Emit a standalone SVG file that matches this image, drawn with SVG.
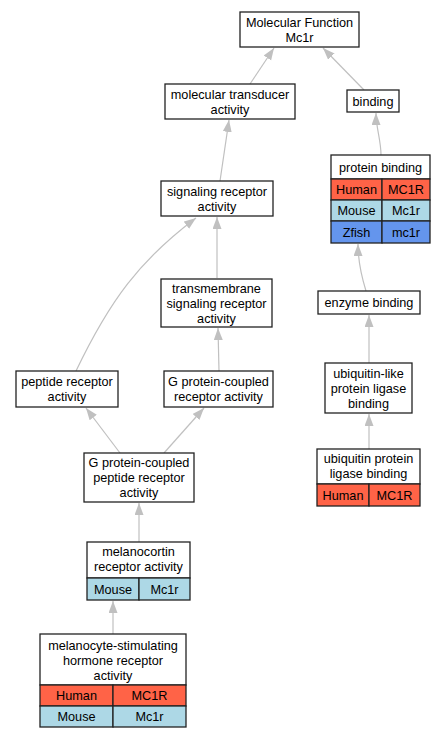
<svg xmlns="http://www.w3.org/2000/svg" width="445" height="739" viewBox="0 0 445 739">
<style>
text{font-family:"Liberation Sans",Arial,sans-serif;font-size:12.7px;fill:#000;text-anchor:middle}
.box{fill:#fff;stroke:#222;stroke-width:1.3}
.h{fill:#ff6347;stroke:#222;stroke-width:1.3}
.m{fill:#add8e6;stroke:#222;stroke-width:1.3}
.z{fill:#6495ed;stroke:#222;stroke-width:1.3}
.e{fill:none;stroke:#c0c0c0;stroke-width:1.2}
</style>
<defs>
<marker id="a" markerUnits="userSpaceOnUse" markerWidth="13" markerHeight="10" refX="12" refY="4.5" orient="auto"><path d="M0,0 L12,4.5 L0,9 z" fill="#c0c0c0"/></marker>
</defs>
<rect width="445" height="739" fill="#fff"/>
<g id="edges">
<path class="e" marker-end="url(#a)" d="M250,84 L274,48"/>
<path class="e" marker-end="url(#a)" d="M364,90 L323,48"/>
<path class="e" marker-end="url(#a)" d="M220,181 L229,120"/>
<path class="e" marker-end="url(#a)" d="M381,155 C381,140 376,128 376,113"/>
<path class="e" marker-end="url(#a)" d="M217,278 L217,217"/>
<path class="e" marker-end="url(#a)" d="M366,291 C362,278 358,262 358,244"/>
<path class="e" marker-end="url(#a)" d="M76,371 C110,300 140,260 196,218"/>
<path class="e" marker-end="url(#a)" d="M219,371 L218,328"/>
<path class="e" marker-end="url(#a)" d="M369,363 L369,315"/>
<path class="e" marker-end="url(#a)" d="M120,453 L86,408"/>
<path class="e" marker-end="url(#a)" d="M164,453 L204,408"/>
<path class="e" marker-end="url(#a)" d="M369,449 L369,414"/>
<path class="e" marker-end="url(#a)" d="M139,542 L139,503"/>
<path class="e" marker-end="url(#a)" d="M113,634 L113,601"/>
</g>
<g id="n_mf"><rect class="box" x="240" y="12" width="119" height="35"/><text x="299.5" y="26.5">Molecular Function</text><text x="299.5" y="41.5">Mc1r</text></g>
<g id="n_mt"><rect class="box" x="165" y="84" width="130" height="35"/><text x="230" y="98.5">molecular transducer</text><text x="230" y="113.5">activity</text></g>
<g id="n_bind"><rect class="box" x="347" y="90" width="52" height="22"/><text x="373" y="105.5">binding</text></g>
<g id="n_sr"><rect class="box" x="161" y="181" width="112" height="35"/><text x="217" y="195.5">signaling receptor</text><text x="217" y="210.5">activity</text></g>
<g id="n_pb"><rect class="box" x="331" y="155" width="99" height="24"/><text x="380.5" y="171.5">protein binding</text>
<rect class="h" x="331" y="179" width="51" height="21"/><rect class="h" x="382" y="179" width="48" height="21"/>
<rect class="m" x="331" y="200" width="51" height="21"/><rect class="m" x="382" y="200" width="48" height="21"/>
<rect class="z" x="331" y="221" width="51" height="22"/><rect class="z" x="382" y="221" width="48" height="22"/>
<text x="356.5" y="194">Human</text><text x="406" y="194">MC1R</text>
<text x="356.5" y="215">Mouse</text><text x="406" y="215">Mc1r</text>
<text x="356.5" y="236.5">Zfish</text><text x="406" y="236.5">mc1r</text></g>
<g id="n_ts"><rect class="box" x="161" y="279" width="111" height="48"/><text x="216.5" y="292.5">transmembrane</text><text x="216.5" y="307.5">signaling receptor</text><text x="216.5" y="322.5">activity</text></g>
<g id="n_eb"><rect class="box" x="318" y="291" width="102" height="23"/><text x="369" y="307">enzyme binding</text></g>
<g id="n_pr"><rect class="box" x="16" y="371" width="102" height="36"/><text x="67" y="385.5">peptide receptor</text><text x="67" y="400.5">activity</text></g>
<g id="n_gpcr"><rect class="box" x="164" y="371" width="109" height="36"/><text x="218.5" y="385.5">G protein-coupled</text><text x="218.5" y="400.5">receptor activity</text></g>
<g id="n_ulpl"><rect class="box" x="325" y="363" width="87" height="50"/><text x="368.5" y="377.5">ubiquitin-like</text><text x="368.5" y="392.5">protein ligase</text><text x="368.5" y="407.5">binding</text></g>
<g id="n_gpcpr"><rect class="box" x="84" y="453" width="110" height="49"/><text x="139" y="467">G protein-coupled</text><text x="139" y="482">peptide receptor</text><text x="139" y="497">activity</text></g>
<g id="n_upl"><rect class="box" x="317" y="449" width="103" height="35"/><text x="368.5" y="463">ubiquitin protein</text><text x="368.5" y="478">ligase binding</text>
<rect class="h" x="317" y="484" width="52" height="22"/><rect class="h" x="369" y="484" width="51" height="22"/>
<text x="343" y="499.5">Human</text><text x="394.5" y="499.5">MC1R</text></g>
<g id="n_mc"><rect class="box" x="87" y="542" width="103" height="36"/><text x="138.5" y="556">melanocortin</text><text x="138.5" y="571">receptor activity</text>
<rect class="m" x="87" y="578" width="52" height="22"/><rect class="m" x="139" y="578" width="51" height="22"/>
<text x="113" y="593.5">Mouse</text><text x="164.5" y="593.5">Mc1r</text></g>
<g id="n_msh"><rect class="box" x="40" y="634" width="146" height="51"/><text x="113" y="649.5">melanocyte-stimulating</text><text x="113" y="664.5">hormone receptor</text><text x="113" y="679.5">activity</text>
<rect class="h" x="40" y="685" width="73" height="21"/><rect class="h" x="113" y="685" width="73" height="21"/>
<rect class="m" x="40" y="706" width="73" height="21"/><rect class="m" x="113" y="706" width="73" height="21"/>
<text x="76.5" y="700">Human</text><text x="149.5" y="700">MC1R</text>
<text x="76.5" y="721">Mouse</text><text x="149.5" y="721">Mc1r</text></g>
</svg>
